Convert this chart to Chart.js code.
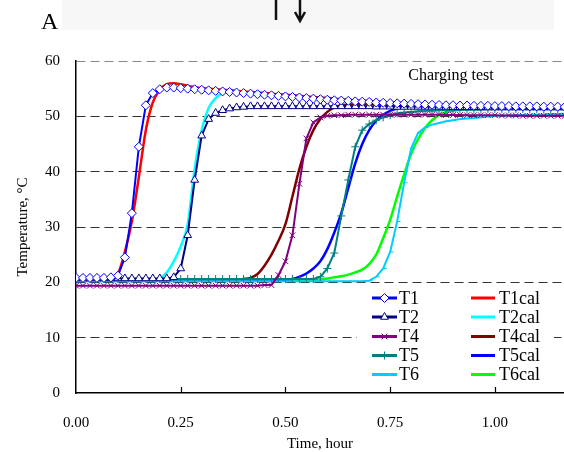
<!DOCTYPE html>
<html>
<head>
<meta charset="utf-8">
<script src="https://cdn.jsdelivr.net/npm/chart.js@4.4.0/dist/chart.umd.min.js"></script>
<style>
  html, body { margin: 0; padding: 0; background: #fff; }
</style>
</head>
<body>
<canvas id="grafico" width="564" height="452"></canvas>
<script>
// time axis in minutes (plotted in hours)
const minutes = [
  0, 1, 2, 3, 4, 5, 6, 7, 8, 9,
  10, 11, 12, 13, 14, 15, 16, 17, 18, 19,
  20, 21, 22, 23, 24, 25, 26, 27, 28, 29,
  30, 31, 32, 33, 34, 35, 36, 37, 38, 39,
  40, 41, 42, 43, 44, 45, 46, 47, 48, 49,
  50, 51, 52, 53, 54, 55, 56, 57, 58, 59,
  60, 61, 62, 63, 64, 65, 66, 67, 68, 69,
  70
];

// measured
const t1 = [
  20.8, 20.8, 20.8, 20.8, 20.8, 20.9, 21.2, 24.5, 32.5, 44.5,
  52.0, 54.2, 54.9, 55.2, 55.2, 55.1, 55.0, 54.9, 54.8, 54.7,
  54.6, 54.5, 54.4, 54.3, 54.2, 54.1, 54.0, 53.9, 53.8, 53.7,
  53.6, 53.5, 53.4, 53.3, 53.2, 53.1, 53.0, 52.9, 52.85, 52.8,
  52.7, 52.65, 52.6, 52.5, 52.45, 52.4, 52.35, 52.3, 52.25, 52.2,
  52.15, 52.1, 52.05, 52.0, 52.0, 51.95, 51.95, 51.9, 51.9, 51.9,
  51.85, 51.85, 51.85, 51.8, 51.8, 51.8, 51.8, 51.75, 51.75, 51.75,
  51.7
];
const t2 = [
  20.7, 20.7, 20.7, 20.7, 20.7, 20.7, 20.7, 20.7, 20.7, 20.7,
  20.7, 20.7, 20.7, 20.7, 20.9, 22.5, 28.5, 38.5, 46.5, 49.5,
  50.6, 51.1, 51.4, 51.6, 51.7, 51.8, 51.8, 51.8, 51.8, 51.8,
  51.8, 51.8, 51.8, 51.8, 51.8, 51.8, 51.8, 51.8, 51.8, 51.8,
  51.8, 51.8, 51.8, 51.75, 51.75, 51.75, 51.7, 51.7, 51.7, 51.7,
  51.7, 51.7, 51.7, 51.7, 51.65, 51.65, 51.65, 51.65, 51.65, 51.6,
  51.6, 51.6, 51.6, 51.6, 51.6, 51.6, 51.6, 51.6, 51.6, 51.6,
  51.6
];
const t4 = [
  19.4, 19.4, 19.4, 19.4, 19.4, 19.4, 19.4, 19.4, 19.4, 19.4,
  19.4, 19.4, 19.4, 19.4, 19.4, 19.4, 19.4, 19.4, 19.4, 19.4,
  19.4, 19.4, 19.4, 19.4, 19.4, 19.4, 19.4, 19.5, 19.5, 21.3,
  23.8, 28.5, 37.8, 46.0, 48.9, 49.8, 50.1, 50.2, 50.2, 50.3,
  50.3, 50.3, 50.3, 50.3, 50.3, 50.3, 50.3, 50.3, 50.3, 50.3,
  50.3, 50.3, 50.3, 50.25, 50.25, 50.25, 50.2, 50.2, 50.2, 50.2,
  50.2, 50.15, 50.15, 50.15, 50.1, 50.1, 50.1, 50.1, 50.1, 50.1,
  50.1
];
const t5 = [
  20.6, 20.6, 20.6, 20.6, 20.6, 20.6, 20.6, 20.6, 20.6, 20.6,
  20.6, 20.6, 20.6, 20.6, 20.6, 20.6, 20.6, 20.6, 20.6, 20.6,
  20.6, 20.6, 20.6, 20.6, 20.6, 20.6, 20.6, 20.6, 20.6, 20.6,
  20.6, 20.6, 20.6, 20.6, 20.6, 21.0, 22.5, 25.3, 32.0, 38.5,
  44.5, 47.5, 48.6, 49.3, 49.8, 50.2, 50.5, 50.7, 50.8, 50.9,
  51.0, 51.0, 51.1, 51.1, 51.1, 51.2, 51.2, 51.2, 51.2, 51.3,
  51.3, 51.3, 51.3, 51.3, 51.3, 51.3, 51.3, 51.3, 51.3, 51.3,
  51.3
];
const t6 = [
  20.2, 20.2, 20.2, 20.2, 20.2, 20.2, 20.2, 20.2, 20.2, 20.2,
  20.2, 20.2, 20.2, 20.2, 20.2, 20.2, 20.2, 20.2, 20.2, 20.2,
  20.2, 20.2, 20.2, 20.2, 20.2, 20.2, 20.2, 20.2, 20.2, 20.2,
  20.2, 20.2, 20.2, 20.2, 20.2, 20.2, 20.2, 20.2, 20.2, 20.2,
  20.2, 20.2, 20.3, 21.0, 22.5, 25.5, 31.0, 38.0, 44.2, 47.0,
  48.0, 48.5, 48.8, 49.1, 49.3, 49.5, 49.6, 49.7, 49.85, 49.95,
  50.05, 50.1, 50.15, 50.2, 50.25, 50.3, 50.3, 50.35, 50.4, 50.4,
  50.45
];

// calculated
const t1cal = [
  20.5, 20.5, 20.5, 20.5, 20.5, 20.6, 21.5, 25.5, 31.0, 39.0,
  47.5, 52.5, 54.8, 55.8, 56.0, 55.8, 55.5, 55.3, 55.1, 55.0,
  54.9, 54.8, 54.7, 54.6, 54.5, 54.4, 54.3, 54.2, 54.1, 54.0,
  53.9, 53.8, 53.7, 53.6, 53.5, 53.4, 53.3, 53.2, 53.1, 53.0,
  52.9, 52.85, 52.8, 52.7, 52.6, 52.55, 52.5, 52.4, 52.35, 52.3,
  52.2, 52.15, 52.1, 52.05, 52.0, 51.95, 51.9, 51.85, 51.8, 51.75,
  51.7, 51.7, 51.65, 51.6, 51.6, 51.55, 51.5, 51.5, 51.45, 51.4,
  51.4
];
const t2cal = [
  20.5, 20.5, 20.5, 20.5, 20.5, 20.5, 20.5, 20.5, 20.5, 20.5,
  20.5, 20.5, 20.7, 21.8, 23.8, 26.5, 30.5, 40.5, 47.5, 51.5,
  53.3, 54.2, 54.5, 54.5, 54.4, 54.3, 54.2, 54.1, 54.0, 53.9,
  53.8, 53.7, 53.6, 53.5, 53.4, 53.3, 53.2, 53.1, 53.0, 52.9,
  52.8, 52.75, 52.7, 52.6, 52.55, 52.5, 52.4, 52.35, 52.3, 52.25,
  52.2, 52.1, 52.05, 52.0, 51.95, 51.9, 51.85, 51.8, 51.8, 51.75,
  51.7, 51.7, 51.65, 51.6, 51.6, 51.55, 51.5, 51.5, 51.45, 51.45,
  51.4
];
const t4cal = [
  20.5, 20.5, 20.5, 20.5, 20.5, 20.5, 20.5, 20.5, 20.5, 20.5,
  20.5, 20.5, 20.5, 20.5, 20.5, 20.5, 20.5, 20.5, 20.5, 20.5,
  20.5, 20.5, 20.5, 20.5, 20.6, 20.8, 21.5, 23.0, 25.0, 27.5,
  30.5, 35.5, 40.5, 44.5, 47.5, 49.5, 50.8, 51.6, 52.0, 52.1,
  52.2, 52.2, 52.2, 52.2, 52.1, 52.1, 52.1, 52.1, 52.0, 52.0,
  52.0, 52.0, 51.95, 51.95, 51.9, 51.9, 51.9, 51.85, 51.85, 51.8,
  51.8, 51.8, 51.75, 51.75, 51.7, 51.7, 51.7, 51.65, 51.65, 51.6,
  51.6
];
const t5cal = [
  20.5, 20.5, 20.5, 20.5, 20.5, 20.5, 20.5, 20.5, 20.5, 20.5,
  20.5, 20.5, 20.5, 20.5, 20.5, 20.5, 20.5, 20.5, 20.5, 20.5,
  20.5, 20.5, 20.5, 20.5, 20.5, 20.5, 20.5, 20.5, 20.5, 20.5,
  20.5, 20.6, 21.0, 21.6, 22.5, 23.8, 26.0, 29.0, 32.5, 37.0,
  41.5, 45.0, 47.5, 49.2, 50.3, 51.0, 51.4, 51.6, 51.7, 51.8,
  51.8, 51.8, 51.8, 51.8, 51.8, 51.8, 51.8, 51.75, 51.75, 51.75,
  51.75, 51.7, 51.7, 51.7, 51.7, 51.7, 51.7, 51.65, 51.65, 51.65,
  51.65
];
const t6cal = [
  20.4, 20.4, 20.4, 20.4, 20.4, 20.4, 20.4, 20.4, 20.4, 20.4,
  20.4, 20.4, 20.4, 20.4, 20.4, 20.4, 20.4, 20.4, 20.4, 20.4,
  20.4, 20.4, 20.4, 20.4, 20.4, 20.4, 20.4, 20.4, 20.4, 20.4,
  20.4, 20.4, 20.4, 20.4, 20.4, 20.5, 20.7, 20.9, 21.1, 21.4,
  21.8, 22.3, 23.3, 25.0, 28.0, 31.3, 35.5, 39.5, 43.2, 45.9,
  47.9, 49.3, 50.2, 50.7, 51.0, 51.2, 51.3, 51.4, 51.4, 51.45,
  51.5, 51.5, 51.5, 51.5, 51.5, 51.5, 51.5, 51.5, 51.5, 51.5,
  51.5
];

const xTicks = [0, 0.25, 0.5, 0.75, 1.0];
const yTicks = [0, 10, 20, 30, 40, 50, 60];

const SERIF = '"Liberation Serif", "Times New Roman", serif';
const pts = vals => vals.map((v, i) => ({ x: minutes[i] / 60, y: v }));

function measured(label, vals, color, style, r) {
  return {
    label: label, data: pts(vals),
    borderColor: color, borderWidth: 2, tension: 0,
    pointStyle: style, pointRadius: r, pointBorderWidth: 1,
    pointBorderColor: color, pointBackgroundColor: '#fff'
  };
}
function calc(label, vals, color) {
  return {
    label: label, data: pts(vals),
    borderColor: color, borderWidth: 2.5,
    cubicInterpolationMode: 'monotone', pointRadius: 0, pointStyle: false
  };
}

// extra drawing: page strip, text, inward ticks, legend
const extras = {
  id: 'extras',
  beforeDraw(chart) {
    const c = chart.ctx;
    c.save();
    c.fillStyle = '#f7f7f7';
    c.fillRect(62, 0, 492, 30);
    c.fillStyle = '#000';
    c.font = '24px ' + SERIF;
    c.textBaseline = 'alphabetic';
    c.fillText('A', 41, 29);
    c.strokeStyle = '#111';
    c.lineWidth = 2.5;
    c.beginPath();
    c.moveTo(276, 0); c.lineTo(276, 20);
    c.moveTo(300, 0); c.lineTo(300, 20);
    c.moveTo(295, 12); c.lineTo(300, 21); c.lineTo(305, 12);
    c.stroke();
    c.restore();
  },
  afterDraw(chart) {
    const c = chart.ctx;
    const xs = chart.scales.x, area = chart.chartArea;
    c.save();
    // inward x ticks
    c.strokeStyle = '#000';
    c.lineWidth = 1.2;
    c.beginPath();
    xTicks.slice(1).forEach(v => {
      const px = Math.round(xs.getPixelForValue(v)) + 0.5;
      c.moveTo(px, area.bottom); c.lineTo(px, area.bottom - 6);
    });
    c.stroke();

    c.fillStyle = '#000';
    c.font = '16px ' + SERIF;
    c.textAlign = 'center';
    c.textBaseline = 'middle';
    c.fillText('Charging test', 451, 76);

    // legend, two columns
    c.fillStyle = '#fff';
    c.fillRect(357, 287, 197, 98);
    const rows = [298, 317, 336.5, 355.5, 374.5];
    const cols = [[372, 397, 399], [471, 495, 499]];
    chart.data.datasets.forEach((ds, i) => {
      const col = cols[i < 5 ? 0 : 1];
      const y = rows[i % 5];
      c.strokeStyle = ds.borderColor;
      c.lineWidth = 3;
      c.beginPath(); c.moveTo(col[0], y); c.lineTo(col[1], y); c.stroke();
      if (ds.pointStyle) {
        c.lineWidth = 1;
        c.fillStyle = '#fff';
        Chart.helpers.drawPoint(c, { pointStyle: ds.pointStyle, radius: ds.pointRadius, rotation: 0, borderWidth: 1 }, (col[0] + col[1]) / 2, y);
      }
      c.fillStyle = '#000';
      c.font = '18px ' + SERIF;
      c.textAlign = 'left';
      c.fillText(ds.label, col[2], y + 1);
    });
    c.restore();
  }
};

new Chart(document.getElementById('grafico'), {
  type: 'line',
  data: {
    datasets: [
      measured('T1', t1, '#0000ff', 'rectRot', 4.5),
      measured('T2', t2, '#000080', 'triangle', 4.5),
      measured('T4', t4, '#800080', 'crossRot', 4),
      measured('T5', t5, '#008080', 'cross', 4),
      measured('T6', t6, '#00ccff', 'dash', 3.5),
      calc('T1cal', t1cal, '#ff0000'),
      calc('T2cal', t2cal, '#00ffff'),
      calc('T4cal', t4cal, '#800000'),
      calc('T5cal', t5cal, '#0000ff'),
      calc('T6cal', t6cal, '#00ff00')
    ]
  },
  options: {
    responsive: false,
    animation: false,
    devicePixelRatio: 1,
    layout: { autoPadding: false, padding: { top: 61, left: 0, right: 0, bottom: 0 } },
    plugins: { legend: { display: false }, tooltip: { enabled: false } },
    scales: {
      x: {
        type: 'linear', min: 0, max: 1.165,
        afterFit: s => { s.height = 59; s.paddingRight = 0; s.paddingLeft = 0; },
        afterBuildTicks: s => { s.ticks = xTicks.map(v => ({ value: v })); },
        grid: { display: false, drawTicks: false },
        border: { display: true, color: '#000', width: 1.5 },
        ticks: {
          padding: 21, color: '#000', font: { family: SERIF, size: 15 },
          callback: v => Number(v).toFixed(2)
        },
        title: {
          display: true, text: 'Time, hour', color: '#000',
          font: { family: SERIF, size: 15 }, padding: { top: 0, bottom: -1 }
        }
      },
      y: {
        min: 0, max: 60,
        afterFit: s => { s.width = 76; },
        afterBuildTicks: s => { s.ticks = yTicks.map(v => ({ value: v })); },
        grid: {
          drawTicks: false, lineWidth: 1,
          color: ctx => ctx.tick.value === 0 ? 'rgba(0,0,0,0)' : (ctx.tick.value === 60 ? '#888' : '#333')
        },
        border: { display: true, color: '#000', width: 1.5, dash: [9, 5] },
        ticks: { padding: 16, color: '#000', font: { family: SERIF, size: 15 } },
        title: {
          display: true, text: 'Temperature, °C', color: '#000',
          font: { family: SERIF, size: 15 }, padding: { top: 14, bottom: 0 }
        }
      }
    }
  },
  plugins: [extras]
});
</script>
</body>
</html>
